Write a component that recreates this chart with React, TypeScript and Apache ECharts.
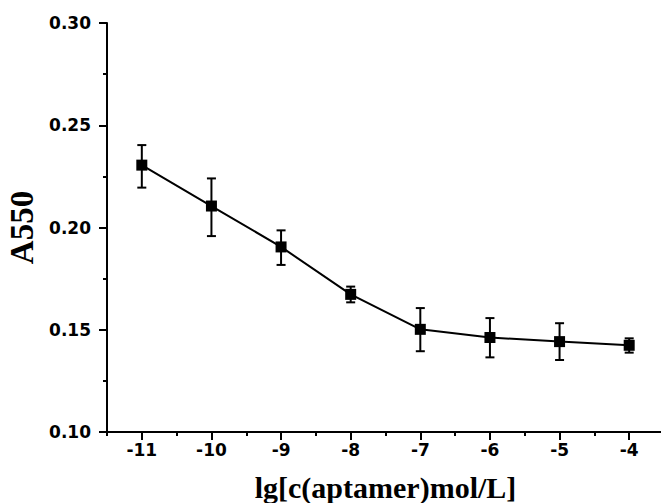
import React, { useEffect, useRef } from "react";
import * as echarts from "echarts";

const xValues = [-11, -10, -9, -8, -7, -6, -5, -4];
const meanValues = [0.2305, 0.2105, 0.1905, 0.1673, 0.1502, 0.1462, 0.1442, 0.1424];
const upperValues = [0.2403, 0.224, 0.1986, 0.1711, 0.1606, 0.1557, 0.1532, 0.1458];
const lowerValues = [0.2195, 0.1958, 0.1817, 0.1634, 0.1395, 0.1365, 0.1352, 0.1388];

const xTitle = "lg[c(aptamer)mol/L]";
const yTitle = "A550";

export default function App() {
  const ref = useRef<HTMLDivElement>(null);
  useEffect(() => {
    if (!ref.current) return;
    const chart = echarts.init(ref.current, null, { renderer: "svg" });
    const lineData = xValues.map((x, i) => [x, meanValues[i]]);
    const errData = xValues.map((x, i) => [x, lowerValues[i], upperValues[i]]);
    const tickFont = {
      fontFamily: "DejaVu Sans",
      fontWeight: "bold" as const,
      fontSize: 17,
      color: "#000",
    };
    chart.setOption({
      animation: false,
      backgroundColor: "#fff",
      grid: { left: 107, right: -3, top: 23, bottom: 71, containLabel: false, outerBoundsMode: "none" },
      xAxis: [
        {
          type: "value",
          min: -11.5,
          max: -3.5,
          interval: 0.5,
          position: "bottom",
          axisLine: { show: true, onZero: false, lineStyle: { color: "#000", width: 2 } },
          axisTick: { show: false },
          splitLine: { show: false },
          axisLabel: {
            ...tickFont,
            margin: 9,
            formatter: (v: number) => (Number.isInteger(v) ? String(v) : ""),
          },
          name: xTitle,
          nameLocation: "middle",
          nameGap: 40,
          nameTextStyle: {
            fontFamily: "Liberation Serif",
            fontWeight: "bold",
            fontSize: 30,
            color: "#000",
          },
        },
        {
          type: "value",
          min: -11.5,
          max: -3.5,
          interval: 1,
          position: "bottom",
          axisLine: { show: false, onZero: false },
          axisTick: { show: true, length: 4, lineStyle: { color: "#000", width: 2 } },
          minorTick: { show: true, splitNumber: 2, length: 8, lineStyle: { color: "#000", width: 2 } },
          splitLine: { show: false },
          axisLabel: { show: false },
        },
      ],
      yAxis: {
        type: "value",
        min: 0.1,
        max: 0.3,
        interval: 0.05,
        axisLine: { show: true, onZero: false, lineStyle: { color: "#000", width: 2 } },
        axisTick: { show: true, length: 8, lineStyle: { color: "#000", width: 2 } },
        minorTick: { show: true, splitNumber: 2, length: 4, lineStyle: { color: "#000", width: 2 } },
        splitLine: { show: false },
        axisLabel: {
          ...tickFont,
          margin: 16,
          formatter: (v: number) => v.toFixed(2),
        },
        name: yTitle,
        nameLocation: "middle",
        nameGap: 69,
        nameRotate: 90,
        nameTextStyle: {
          fontFamily: "Liberation Serif",
          fontWeight: "bold",
          fontSize: 33,
          color: "#000",
        },
      },
      series: [
        {
          type: "custom",
          xAxisIndex: 0,
          yAxisIndex: 0,
          z: 1,
          encode: { x: 0, y: [1, 2] },
          data: errData,
          renderItem: (params: any, api: any) => {
            const x = api.value(0);
            const lo = api.value(1);
            const hi = api.value(2);
            const top = api.coord([x, hi]);
            const bot = api.coord([x, lo]);
            const hw = 4.5;
            const style = { stroke: "#000", lineWidth: 2 };
            return {
              type: "group",
              children: [
                { type: "line", shape: { x1: top[0], y1: top[1], x2: bot[0], y2: bot[1] }, style },
                { type: "line", shape: { x1: top[0] - hw, y1: top[1], x2: top[0] + hw, y2: top[1] }, style },
                { type: "line", shape: { x1: bot[0] - hw, y1: bot[1], x2: bot[0] + hw, y2: bot[1] }, style },
              ],
            };
          },
        },
        {
          type: "line",
          xAxisIndex: 0,
          yAxisIndex: 0,
          z: 2,
          data: lineData,
          symbol: "rect",
          symbolSize: 11,
          itemStyle: { color: "#000" },
          lineStyle: { color: "#000", width: 2 },
        },
      ],
    });
    return () => chart.dispose();
  }, []);
  return (
    <div
      ref={ref}
      style={{ position: "absolute", left: 0, top: 0, width: 661, height: 503, background: "#fff" }}
    />
  );
}
